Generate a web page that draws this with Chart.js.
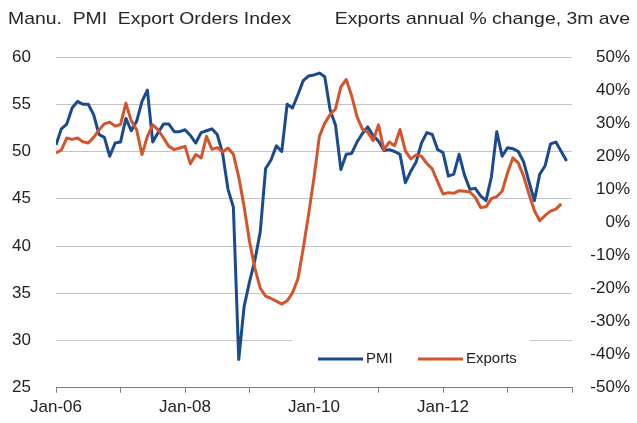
<!DOCTYPE html>
<html>
<head>
<meta charset="utf-8">
<script src="https://cdn.jsdelivr.net/npm/chart.js@4/dist/chart.umd.min.js"></script>
<style>
  html, body { margin: 0; padding: 0; background: #fff; }
  #wrap { width: 637px; height: 423px; }
</style>
</head>
<body>
<div id="wrap"><canvas id="chart" width="637" height="423"></canvas></div>
<script>
// monthly observations from Jan-06; x = months since Jan-06
const leftTitle = 'Manu.  PMI  Export Orders Index';
const rightTitle = 'Exports annual % change, 3m ave';
const tickLabels = ['Jan-06', 'Jan-08', 'Jan-10', 'Jan-12'];

const pmi = [
  50.7, 52.4, 52.9, 54.6, 55.3, 55.0, 55.0, 53.9, 51.8, 51.5, 49.5, 50.9,
  51.0, 53.5, 52.2, 53.2, 55.3, 56.5, 51.0, 52.0, 52.9, 52.9, 52.1, 52.1,
  52.3, 51.7, 50.9, 52.0, 52.2, 52.4, 51.8, 49.8, 46.0, 44.1, 28.0, 33.6,
  36.2, 38.5, 41.5, 48.2, 49.1, 50.6, 50.0, 55.0, 54.6, 56.0, 57.5, 58.0,
  58.1, 58.3, 57.9, 54.4, 52.8, 48.1, 49.7, 49.8, 51.0, 51.9, 52.6, 51.7,
  51.1, 50.1, 50.2, 50.0, 49.7, 46.7, 47.9, 48.9, 50.9, 52.0, 51.8, 50.2,
  49.9, 47.4, 47.6, 49.7, 47.5, 46.0, 46.1, 45.3, 44.8, 47.3, 52.1, 49.5,
  50.4, 50.3, 50.0, 48.9, 46.8, 44.8, 47.6, 48.5, 50.8, 51.0, 50.0, 49.0
];

const exportsPct = [
  21.0, 21.9, 25.5, 25.1, 25.5, 24.4, 24.0, 25.7, 27.9, 29.8, 30.3, 29.1,
  29.6, 36.0, 30.7, 28.0, 20.5, 26.0, 29.5, 28.0, 25.5, 23.0, 22.0, 22.5,
  23.0, 17.7, 20.5, 19.5, 26.0, 22.1, 22.6, 21.3, 22.5, 20.6, 13.7, 4.7,
  -5.7, -13.9, -19.9, -22.3, -23.0, -23.8, -24.7, -23.7, -21.3, -17.1, -7.8, 2.5,
  13.5, 26.0, 30.0, 32.6, 34.3, 41.0, 43.2, 38.3, 32.0, 28.2, 27.3, 24.7,
  29.5, 22.0, 24.3, 23.2, 28.1, 21.6, 19.2, 20.4, 20.0, 17.8, 16.2, 12.3,
  8.6, 9.0, 8.8, 9.6, 9.4, 9.2, 7.6, 4.5, 4.7, 7.2, 7.8, 9.4,
  15.0, 19.5, 18.0, 14.0, 8.5, 3.6, 0.5, 2.1, 3.4, 4.0, 5.6
];

const blue = '#1b4a8e';
const red = '#d4552c';
const font = '"Liberation Sans", Arial, sans-serif';

function toPoints(arr) {
  return arr.map((v, i) => ({ x: i, y: v }));
}

// two header texts, one over each axis (the original text is a bit wide)
const headerPlugin = {
  id: 'header',
  afterDraw(chart) {
    const ctx = chart.ctx;
    const stretch = 1.14;
    ctx.save();
    ctx.font = '17px ' + font;
    ctx.fillStyle = '#262626';
    ctx.textBaseline = 'middle';
    ctx.scale(stretch, 1);
    ctx.textAlign = 'left';
    ctx.fillText(leftTitle, 8 / stretch, 19);
    ctx.textAlign = 'right';
    ctx.fillText(rightTitle, 630 / stretch, 19);
    ctx.restore();
  }
};

// legend sitting inside the plot, white box over the gridline
const legendBox = {
  id: 'legendBox',
  afterDraw(chart) {
    const ctx = chart.ctx;
    const ds = chart.data.datasets;
    ctx.save();
    ctx.fillStyle = '#fff';
    ctx.fillRect(292, 338, 238, 38);
    ctx.font = '15px ' + font;
    ctx.textBaseline = 'middle';
    ctx.textAlign = 'left';
    const y = 359;
    const spots = [318, 418];
    [1, 0].forEach((idx, k) => {
      const x = spots[k];
      ctx.strokeStyle = ds[idx].borderColor;
      ctx.lineWidth = 3;
      ctx.beginPath();
      ctx.moveTo(x, y);
      ctx.lineTo(x + 45, y);
      ctx.stroke();
      ctx.fillStyle = '#222';
      ctx.fillText(ds[idx].label, x + 48, y);
    });
    ctx.restore();
  }
};

new Chart(document.getElementById('chart'), {
  type: 'line',
  data: {
    datasets: [
      {
        label: 'Exports',
        data: toPoints(exportsPct),
        yAxisID: 'y1',
        borderColor: red,
        borderWidth: 3,
        pointRadius: 0,
        tension: 0,
        borderJoinStyle: 'round',
        order: 0
      },
      {
        label: 'PMI',
        data: toPoints(pmi),
        yAxisID: 'y',
        borderColor: blue,
        borderWidth: 3,
        pointRadius: 0,
        tension: 0,
        borderJoinStyle: 'round',
        order: 1
      }
    ]
  },
  options: {
    responsive: false,
    animation: false,
    layout: { padding: { left: 0, right: 7, top: 57, bottom: 0 } },
    plugins: {
      legend: { display: false },
      title: { display: false },
      tooltip: { enabled: false }
    },
    scales: {
      x: {
        type: 'linear',
        min: 0,
        max: 96,
        afterFit(scale) { scale.height = 33; },
        grid: {
          drawOnChartArea: false,
          drawTicks: true,
          tickLength: 5,
          color: '#7f7f7f'
        },
        border: { display: true, color: '#7f7f7f', width: 1 },
        ticks: {
          stepSize: 12,
          autoSkip: false,
          maxRotation: 0,
          padding: 4,
          color: '#222',
          font: { size: 17, family: font },
          callback(value) {
            if (value % 24 === 0 && value / 24 < tickLabels.length) return tickLabels[value / 24];
            return '';
          }
        }
      },
      y: {
        position: 'left',
        min: 25,
        max: 60,
        afterFit(scale) { scale.width = 56; },
        grid: {
          drawTicks: false,
          color: ctx => ctx.tick && ctx.tick.value === 25 ? 'rgba(0,0,0,0)' : '#c4c4c4'
        },
        border: { display: false },
        ticks: {
          stepSize: 5,
          padding: 25,
          color: '#222',
          font: { size: 17, family: font }
        }
      },
      y1: {
        position: 'right',
        min: -50,
        max: 50,
        afterFit(scale) { scale.width = 58; },
        grid: { drawOnChartArea: false, drawTicks: false },
        border: { display: false },
        ticks: {
          stepSize: 10,
          crossAlign: 'far',
          color: '#222',
          font: { size: 17, family: font },
          callback: v => v + '%'
        }
      }
    }
  },
  plugins: [headerPlugin, legendBox]
});
</script>
</body>
</html>
